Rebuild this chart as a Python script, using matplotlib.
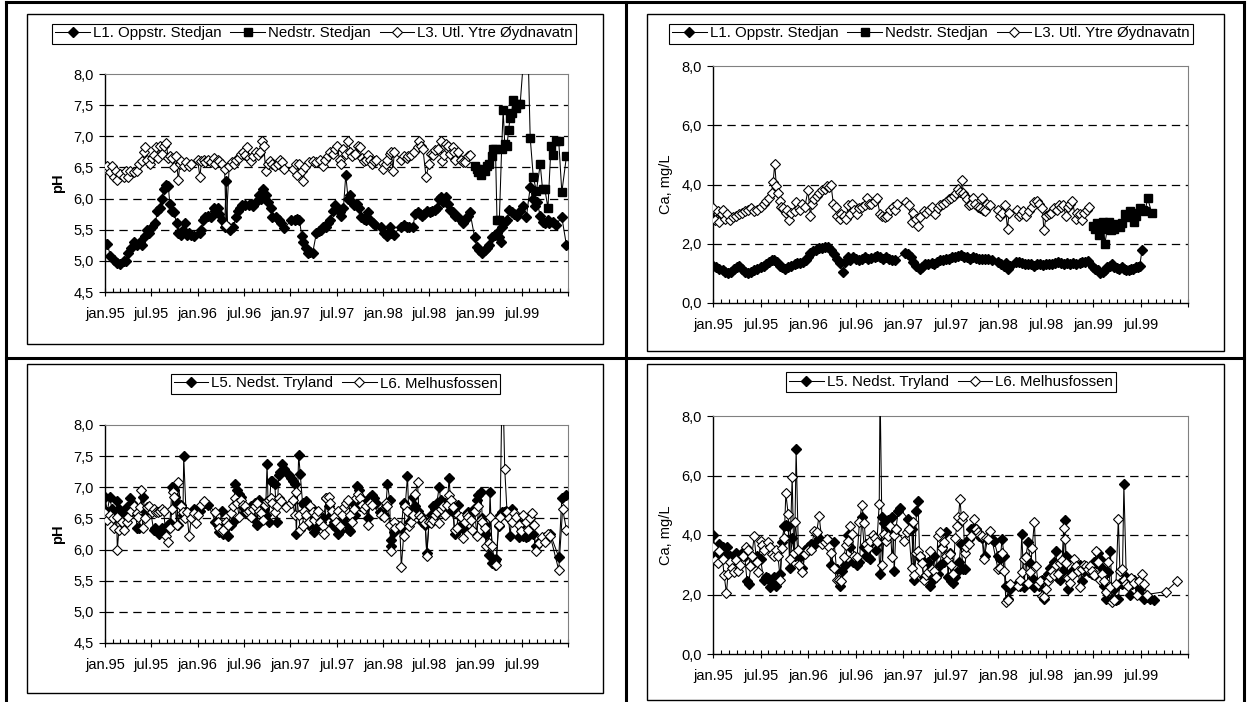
import matplotlib
matplotlib.use("Agg")
import matplotlib.pyplot as plt
from matplotlib.patches import Rectangle
from matplotlib.lines import Line2D
import numpy as np

plt.rcParams['font.family'] = ['Liberation Sans', 'DejaVu Sans']
plt.rcParams['lines.scale_dashes'] = False

W, H = 1247, 702

# x values are months after 1 jan 1995
month_labels = ["jan.95", "jul.95", "jan.96", "jul.96", "jan.97",
				"jul.97", "jan.98", "jul.98", "jan.99", "jul.99"]

# ---------- pH, top left ----------
ph_l1_month = [
	0.0,0.3,0.7,1.2,1.6,2.0,2.4,2.7,3.0,3.4,
	3.8,4.2,4.6,4.8,5.2,5.4,5.7,6.1,6.5,6.8,
	7.1,7.4,7.6,7.9,8.2,8.4,8.7,8.9,9.3,9.5,
	9.8,10.1,10.4,10.6,10.9,11.2,11.5,12.3,12.5,12.7,
	13.0,13.4,13.8,14.1,14.3,14.6,14.8,15.2,15.5,15.7,
	15.9,16.2,16.6,17.0,17.3,17.5,17.8,18.2,18.6,18.9,
	19.2,19.6,19.9,20.2,20.5,20.8,21.1,21.5,21.7,22.1,
	22.5,22.8,23.2,24.1,24.6,24.9,25.2,25.5,25.7,26.0,
	26.3,26.6,26.9,27.4,27.7,28.0,28.3,28.7,28.9,29.2,
	29.5,29.8,30.1,30.4,30.6,30.9,31.2,31.5,31.8,32.0,
	32.3,32.6,32.9,33.2,33.5,33.8,34.1,34.4,34.7,35.0,
	35.8,36.2,36.5,36.9,37.1,37.4,38.3,38.7,39.1,39.4,
	39.9,40.2,40.5,40.8,41.1,41.3,41.7,42.1,42.4,42.7,
	43.0,43.3,43.5,43.8,44.2,44.5,44.7,45.1,45.4,45.7,
	46.4,46.7,47.0,47.3,47.9,48.2,48.5,48.8,49.2,49.5,
	49.8,50.2,50.5,50.8,51.0,51.3,51.5,51.8,52.1,52.4,
	52.7,53.0,53.4,53.8,54.2,54.6,55.1,55.4,55.7,56.0,
	56.4,56.7,57.0,57.4,57.6,58.0,58.4,59.2,59.8]
ph_l1 = [
	5.27,5.27,5.08,5.02,4.97,4.95,5.0,5.0,5.13,5.2,
	5.3,5.25,5.3,5.25,5.4,5.5,5.45,5.55,5.6,5.8,
	5.85,6.0,6.15,6.22,6.2,5.92,5.8,5.78,5.6,5.45,
	5.42,5.5,5.6,5.42,5.45,5.42,5.4,5.45,5.5,5.65,
	5.7,5.72,5.7,5.85,5.8,5.85,5.75,5.65,5.55,6.28,
	5.55,5.5,5.55,5.7,5.8,5.85,5.9,5.9,5.9,5.92,
	5.88,5.95,6.05,6.0,6.15,6.05,5.95,5.85,5.7,5.7,
	5.65,5.6,5.52,5.65,5.65,5.68,5.65,5.4,5.3,5.2,
	5.12,5.15,5.12,5.45,5.48,5.5,5.55,5.55,5.6,5.65,
	5.8,5.9,5.85,5.78,5.72,5.85,6.38,6.0,6.05,5.95,
	5.9,5.92,5.85,5.7,5.68,5.65,5.78,5.65,5.6,5.58,
	5.55,5.45,5.4,5.55,5.45,5.42,5.55,5.58,5.55,5.55,
	5.55,5.75,5.78,5.75,5.72,5.75,5.8,5.78,5.8,5.82,
	5.85,6.0,6.02,5.95,6.03,5.92,5.82,5.78,5.72,5.7,
	5.6,5.65,5.72,5.78,5.38,5.22,5.18,5.12,5.18,5.2,
	5.25,5.38,5.42,5.45,5.38,5.3,5.55,5.62,5.65,5.82,
	5.78,5.75,5.72,5.8,5.88,5.7,6.18,6.0,5.88,5.95,
	5.72,5.62,5.6,5.65,5.6,5.62,5.58,5.7,5.25]

ph_ned_month = [
	47.9,48.2,48.4,48.7,48.9,49.2,49.5,49.8,50.1,50.3,
	50.6,50.8,51.1,51.4,51.6,51.8,52.1,52.3,52.5,52.7,
	52.9,53.2,53.5,53.8,54.7,55.1,55.5,55.9,56.4,56.7,
	57.0,57.4,57.8,58.0,58.4,58.8,59.2,59.8]
ph_ned = [
	6.52,6.48,6.42,6.38,6.48,6.45,6.52,6.55,6.68,6.8,
	6.8,5.65,5.65,6.8,7.42,6.88,6.85,7.1,7.3,7.38,
	7.58,7.45,7.52,7.52,9.0,6.98,6.35,6.12,6.55,6.15,
	6.15,5.85,6.85,6.7,6.92,6.92,6.1,6.68]

ph_l3_month = [
	0.0,0.3,0.7,0.9,1.2,1.4,1.6,2.0,2.4,2.7,
	3.0,3.3,3.7,4.1,4.4,4.8,5.1,5.2,5.4,5.8,
	6.1,6.4,6.6,6.9,7.1,7.4,7.6,7.9,8.2,8.4,
	8.7,8.9,9.2,9.5,9.7,9.9,10.2,10.5,10.9,11.2,
	12.0,12.3,12.5,12.8,13.0,13.4,13.8,14.1,14.3,14.6,
	14.8,15.2,15.5,15.7,16.1,16.4,16.7,17.0,17.4,17.6,
	17.9,18.2,18.4,18.7,18.9,19.2,19.6,19.8,20.1,20.4,
	20.6,20.8,21.1,21.4,21.7,22.0,22.4,22.7,22.9,23.2,
	24.3,24.8,24.9,25.2,25.5,25.7,25.9,26.4,26.9,27.4,
	27.8,28.2,28.5,28.9,29.2,29.5,29.8,30.1,30.4,30.6,
	30.9,31.2,31.5,31.8,32.0,32.4,32.8,33.0,33.3,33.5,
	33.8,34.1,34.4,34.6,34.8,35.1,36.0,36.4,36.6,36.9,
	37.1,37.3,37.5,38.4,38.8,39.1,39.3,39.7,40.1,40.5,
	40.7,41.0,41.2,41.6,42.0,42.3,42.5,42.8,43.2,43.5,
	43.7,43.9,44.2,44.4,44.7,45.1,45.2,45.4,45.7,46.1,
	46.4,46.6,47.0,47.3]
ph_l3 = [
	6.47,6.52,6.42,6.52,6.35,6.45,6.3,6.4,6.35,6.45,
	6.35,6.45,6.42,6.45,6.55,6.6,6.75,6.82,6.62,6.55,
	6.65,6.7,6.82,6.65,6.85,6.72,6.85,6.9,6.65,6.68,
	6.65,6.5,6.68,6.3,6.55,6.6,6.52,6.58,6.52,6.55,
	6.62,6.35,6.6,6.62,6.58,6.62,6.58,6.65,6.55,6.62,
	6.6,6.55,6.48,5.58,6.52,6.58,6.55,6.62,6.65,6.72,
	6.75,6.7,6.82,6.65,6.6,6.68,6.75,6.7,6.75,6.92,
	6.85,6.45,6.55,6.6,6.55,6.52,6.55,6.62,6.58,6.48,
	6.48,6.55,6.38,6.55,6.45,6.28,6.5,6.58,6.6,6.58,
	6.62,6.52,6.62,6.68,6.75,6.72,6.8,6.85,6.62,6.55,
	6.8,6.72,6.92,6.75,6.68,6.72,6.85,6.82,6.65,6.6,
	6.62,6.7,6.62,6.55,6.6,6.62,6.48,6.55,6.62,6.72,
	6.75,6.45,6.75,6.62,6.68,6.65,6.68,6.7,6.75,6.82,
	6.92,6.85,6.8,6.35,6.55,6.72,6.7,6.78,6.8,6.92,
	6.6,6.7,6.88,6.85,6.72,6.82,6.75,6.62,6.75,6.62,
	6.58,6.58,6.68,6.7]

# ---------- Ca, top right ----------
ca_l1_month = [
	0.0,0.4,0.8,1.2,1.5,1.9,2.3,2.7,3.0,3.3,
	3.7,4.0,4.4,4.8,5.2,5.6,6.0,6.4,6.7,7.1,
	7.4,7.7,8.1,8.4,8.7,9.1,9.5,9.9,10.3,10.6,
	11.0,11.4,11.8,12.0,12.3,12.6,13.0,13.4,13.8,14.1,
	14.5,14.9,15.3,15.7,16.1,16.4,16.7,17.0,17.3,17.7,
	18.1,18.5,18.8,19.2,19.6,20.0,20.4,20.7,21.1,21.5,
	21.9,22.2,22.6,23.0,24.2,24.6,25.0,25.3,25.7,26.1,
	26.4,26.8,27.2,27.6,27.9,28.3,28.7,29.1,29.4,29.8,
	30.2,30.6,31.0,31.3,31.7,32.1,32.5,32.8,33.2,33.6,
	34.0,34.3,34.7,35.2,36.0,36.4,36.7,37.0,37.3,37.5,
	38.3,38.7,39.0,39.4,39.8,40.2,40.6,40.9,41.3,41.7,
	42.1,42.4,42.8,43.2,43.6,43.9,44.3,44.7,45.1,45.5,
	45.9,46.3,46.6,47.0,47.4,48.0,48.3,48.6,48.9,49.2,
	49.5,49.8,50.1,50.4,50.7,51.0,51.3,51.6,51.9,52.2,
	52.5,52.8,53.1,53.4,53.7,53.9,54.2]
ca_l1 = [
	1.25,1.22,1.15,1.1,1.05,1.0,1.05,1.15,1.2,1.25,
	1.15,1.05,1.0,1.05,1.1,1.15,1.2,1.25,1.3,1.4,
	1.45,1.45,1.4,1.25,1.2,1.15,1.2,1.25,1.3,1.35,
	1.35,1.38,1.45,1.55,1.7,1.75,1.8,1.85,1.85,1.9,
	1.88,1.8,1.65,1.5,1.35,1.05,1.4,1.55,1.45,1.55,
	1.5,1.45,1.5,1.55,1.5,1.52,1.55,1.6,1.55,1.5,
	1.55,1.5,1.45,1.45,1.7,1.65,1.55,1.4,1.25,1.15,
	1.2,1.3,1.3,1.35,1.3,1.4,1.45,1.45,1.5,1.5,
	1.55,1.55,1.6,1.62,1.55,1.55,1.5,1.55,1.52,1.5,
	1.5,1.48,1.5,1.45,1.4,1.3,1.25,1.35,1.15,1.25,
	1.4,1.38,1.35,1.3,1.3,1.3,1.25,1.3,1.3,1.28,
	1.3,1.3,1.32,1.35,1.4,1.35,1.3,1.35,1.3,1.35,
	1.32,1.35,1.4,1.38,1.42,1.2,1.15,1.1,1.0,1.05,
	1.1,1.2,1.25,1.3,1.2,1.18,1.15,1.2,1.15,1.1,
	1.12,1.15,1.15,1.2,1.2,1.25,1.8]

ca_ned_month = [
	48.0,48.3,48.5,48.8,49.0,49.3,49.5,49.8,50.0,50.3,
	50.7,51.0,51.4,51.7,52.0,52.3,52.7,52.9,53.2,53.4,
	53.9,54.3,54.6,54.9,55.4]
ca_ned = [
	2.6,2.5,2.7,2.3,2.6,2.75,2.0,2.5,2.75,2.45,
	2.5,2.65,2.55,2.7,3.0,2.9,3.1,3.05,2.75,2.95,
	3.2,3.15,3.1,3.55,3.05]

ca_l3_month = [
	0.0,0.3,0.6,0.8,1.1,1.3,1.5,1.8,2.2,2.5,
	2.9,3.3,3.7,4.0,4.4,4.8,5.2,5.6,6.0,6.4,
	6.7,7.1,7.4,7.6,7.8,8.0,8.2,8.4,8.6,8.9,
	9.2,9.4,9.6,9.9,10.3,10.5,10.8,11.0,11.3,11.6,
	12.0,12.3,12.5,12.8,13.1,13.4,13.8,14.1,14.4,14.6,
	14.9,15.2,15.5,15.7,16.0,16.2,16.5,16.8,17.1,17.3,
	17.6,17.8,18.2,18.5,18.8,19.2,19.5,19.7,20.0,20.4,
	20.7,21.1,21.4,21.7,22.0,22.4,22.7,23.0,23.2,24.4,
	24.7,25.1,25.3,25.6,25.9,26.2,26.6,26.9,27.3,27.7,
	28.0,28.4,28.7,29.1,29.4,29.8,30.1,30.5,30.7,31.0,
	31.2,31.5,31.6,31.8,32.1,32.3,32.6,32.9,33.1,33.5,
	33.7,34.0,34.1,34.3,34.6,35.0,36.0,36.3,36.5,36.9,
	37.2,37.4,38.4,38.7,38.9,39.2,39.5,39.9,40.3,40.6,
	40.9,41.2,41.6,41.8,42.1,42.4,42.7,43.1,43.4,43.7,
	43.9,44.2,44.6,44.8,45.1,45.4,45.8,46.0,46.3,46.6,
	46.9,47.3,47.5]
ca_l3 = [
	3.2,2.8,3.1,2.75,3.0,3.15,2.85,3.0,2.8,2.9,
	2.95,3.0,3.05,3.1,3.15,3.2,3.1,3.15,3.25,3.35,
	3.45,3.55,3.7,4.1,4.7,3.95,3.7,3.45,3.25,3.2,
	3.05,3.15,2.8,3.05,3.1,3.4,3.2,3.15,3.35,3.25,
	3.8,2.95,3.35,3.5,3.6,3.7,3.8,3.85,3.95,3.9,
	4.0,3.35,3.25,2.95,2.85,3.0,2.95,2.85,3.3,3.0,
	3.35,3.15,3.0,3.2,3.25,3.3,3.55,3.35,3.35,3.45,
	3.55,3.0,2.95,2.9,2.95,3.15,3.25,3.15,3.35,3.4,
	3.3,2.75,3.05,2.85,2.6,2.9,3.1,3.05,3.15,3.25,
	3.0,3.2,3.3,3.35,3.4,3.5,3.55,3.6,3.7,3.85,
	3.75,4.15,3.7,3.6,3.5,3.3,3.35,3.55,3.35,3.25,
	3.2,3.55,3.15,3.1,3.35,3.3,3.15,2.95,3.05,3.3,
	2.5,3.05,3.15,2.95,3.0,3.1,2.95,3.1,3.25,3.4,
	3.45,3.35,3.2,2.45,2.95,3.0,3.05,3.2,3.15,3.3,
	3.25,3.3,2.95,3.25,3.35,3.45,2.85,3.05,3.0,2.8,
	3.05,3.15,3.25]

# ---------- pH, bottom left ----------
ph_l5_month = [
	0.0,0.3,0.6,0.9,1.2,1.5,1.6,1.8,2.2,2.5,
	2.8,3.2,3.5,3.9,4.2,4.4,4.7,4.9,5.2,5.6,
	5.9,6.3,6.5,6.8,7.0,7.2,7.4,7.6,7.9,8.2,
	8.4,8.7,8.9,9.1,9.3,9.5,9.8,10.1,10.2,10.5,
	10.8,11.1,11.5,11.9,12.3,12.5,13.0,13.4,14.3,14.6,
	14.8,15.1,15.3,15.7,16.0,16.3,16.6,16.9,17.1,17.4,
	17.6,17.9,18.2,18.4,18.7,18.9,19.2,19.4,19.7,19.9,
	20.2,20.6,20.8,21.0,21.2,21.5,21.7,22.0,22.3,22.5,
	22.7,22.9,23.2,23.8,24.1,24.3,24.6,24.8,25.1,25.3,
	25.6,25.8,26.1,26.4,26.6,26.9,27.1,27.4,27.6,28.0,
	28.3,28.7,29.0,29.3,29.5,29.7,29.9,30.2,30.5,30.7,
	31.0,31.3,31.6,31.8,32.1,32.4,32.6,32.9,33.1,33.4,
	33.8,34.1,34.3,34.6,34.8,35.1,35.6,36.1,36.4,36.6,
	36.9,37.0,37.1,37.4,37.6,37.9,38.4,38.7,38.9,39.2,
	39.4,39.7,39.9,40.2,40.5,40.8,41.1,41.5,41.7,42.0,
	42.3,42.5,42.8,43.0,43.3,43.5,43.8,44.1,44.3,44.6,
	44.8,45.1,45.3,45.6,45.8,46.1,46.4,46.8,47.1,47.5,
	47.8,48.2,48.4,48.7,48.9,49.2,49.4,49.7,49.9,50.2,
	50.5,50.7,51.0,51.2,51.5,51.7,52.0,52.3,52.5,52.8,
	53.0,53.3,53.6,53.9,54.2,54.5,54.8,55.1,55.5,55.8,
	56.2,56.6,57.0,57.4,57.7,58.8,59.2,59.8]
ph_l5 = [
	6.85,6.6,6.85,6.65,6.6,6.62,6.78,6.65,6.6,6.62,
	6.68,6.82,6.75,6.6,6.35,6.35,6.6,6.85,6.6,6.65,
	6.62,6.32,6.35,6.3,6.25,6.3,6.35,6.32,6.35,6.4,
	6.42,7.0,6.95,6.85,6.75,6.4,6.72,6.55,7.5,6.6,
	6.55,6.55,6.65,6.6,6.62,6.7,6.75,6.72,6.45,6.4,
	6.28,6.62,6.25,6.38,6.22,6.4,6.45,7.05,6.95,6.9,
	6.85,6.68,6.6,6.65,6.55,6.7,6.5,6.75,6.4,6.8,
	6.75,6.65,6.55,7.38,6.45,7.1,7.1,7.05,6.45,7.2,
	7.25,7.38,7.3,7.2,7.15,7.1,7.05,6.25,7.52,7.22,
	6.75,6.72,6.78,6.4,6.5,6.65,6.28,6.35,6.55,6.45,
	6.5,6.82,6.7,6.55,6.4,6.45,6.35,6.25,6.3,6.45,
	6.5,6.4,6.32,6.3,6.75,6.55,7.02,6.95,6.7,6.8,
	6.75,6.5,6.85,6.88,6.82,6.75,6.6,6.55,6.7,7.05,
	6.8,6.15,6.05,6.28,6.35,6.4,6.35,6.75,6.7,7.18,
	6.45,6.6,6.85,6.7,6.62,6.55,6.45,6.4,5.95,6.45,
	6.55,6.7,6.65,6.75,7.0,6.8,6.6,6.75,6.65,7.15,
	6.72,6.6,6.25,6.3,6.72,6.4,6.35,6.55,6.6,6.6,
	6.65,6.8,6.88,6.92,6.5,6.4,6.25,5.92,6.92,5.78,
	5.82,5.85,6.38,6.55,6.6,6.6,6.62,6.5,6.22,6.65,
	6.55,6.48,6.2,6.4,6.22,6.2,6.22,6.5,6.25,6.05,
	6.12,6.15,6.2,6.22,6.25,5.88,6.82,6.88]

ph_l6_month = [
	0.0,0.3,0.6,1.0,1.2,1.5,1.6,1.8,2.2,2.5,
	2.8,3.0,3.4,3.7,4.1,4.3,4.6,4.7,4.9,5.2,
	5.4,5.7,6.1,6.4,6.6,6.9,7.1,7.4,7.6,7.9,
	8.2,8.4,8.7,8.8,9.0,9.3,9.5,9.8,10.1,10.4,
	10.6,10.9,11.2,11.5,11.8,12.1,12.4,12.8,14.3,14.6,
	14.8,15.1,15.3,15.7,16.0,16.3,16.6,16.9,17.1,17.4,
	17.6,17.9,18.2,18.4,18.7,18.9,19.2,19.4,19.7,19.9,
	20.2,20.5,20.7,21.0,21.2,21.5,21.7,22.0,22.3,22.5,
	22.8,23.5,24.1,24.3,24.6,24.8,25.1,25.3,25.6,25.8,
	26.1,26.4,26.6,26.9,27.1,27.4,27.6,27.9,28.2,28.4,
	28.7,29.0,29.2,29.4,29.7,29.9,30.2,30.5,30.7,31.0,
	31.2,31.5,31.8,32.0,32.3,32.5,32.8,33.0,33.3,33.5,
	33.8,34.1,34.3,34.6,35.8,36.1,36.4,36.6,36.9,37.1,
	37.4,37.6,38.2,38.4,38.7,38.9,39.2,39.4,39.7,39.9,
	40.2,40.5,40.7,41.0,41.2,41.5,41.7,42.0,42.3,42.5,
	42.8,43.0,43.3,43.5,43.8,44.1,44.3,44.6,44.8,45.1,
	45.3,45.6,45.8,46.1,46.4,46.6,46.9,47.1,47.4,47.6,
	47.9,48.2,48.4,48.7,48.9,49.2,49.4,49.7,49.9,50.2,
	50.5,50.7,51.0,51.2,51.5,51.8,52.1,52.4,52.8,53.0,
	53.3,53.6,53.9,54.2,54.5,54.8,55.1,55.3,55.6,55.8,
	56.2,56.6,57.0,57.4,57.7,58.8,59.3,59.8]
ph_l6 = [
	6.58,6.48,6.55,6.5,6.35,6.52,6.0,6.32,6.45,6.32,
	6.45,6.52,6.62,6.7,6.58,6.52,6.68,6.95,6.35,6.5,
	6.68,6.7,6.6,6.65,6.6,6.6,6.62,6.65,6.62,6.22,
	6.12,6.35,6.65,6.92,6.85,6.4,7.08,6.7,6.6,6.5,
	6.6,6.22,6.5,6.58,6.42,6.55,6.72,6.78,6.6,6.45,
	6.35,6.3,6.32,6.45,6.4,6.58,6.7,6.82,6.75,6.52,
	6.8,6.72,6.7,6.6,6.62,6.52,6.65,6.7,6.75,6.62,
	6.58,6.48,6.72,6.78,6.8,6.82,6.75,6.6,6.7,6.82,
	6.78,6.68,6.75,6.8,6.55,6.92,6.55,6.32,6.38,6.62,
	6.55,6.45,6.7,6.6,6.48,6.55,6.62,6.45,6.38,6.25,
	6.82,6.85,6.75,6.62,6.52,6.45,6.62,6.38,6.55,6.68,
	6.75,6.8,6.55,6.45,6.65,6.82,6.9,6.82,6.72,6.65,
	6.7,6.4,6.75,6.72,6.55,6.52,6.75,6.7,6.4,5.98,
	6.45,6.35,6.38,5.72,6.22,6.7,6.62,6.38,6.45,6.55,
	6.9,7.08,6.55,6.52,6.48,6.42,5.9,6.45,6.42,6.48,
	6.55,6.6,6.42,6.65,6.7,6.55,6.72,6.88,6.8,6.68,
	6.32,6.35,6.55,6.52,6.18,6.45,6.55,6.52,6.48,6.32,
	6.62,6.22,6.7,6.48,6.45,6.35,6.05,6.1,6.52,6.05,
	5.75,5.75,6.4,6.52,9.0,7.3,6.6,6.5,6.45,6.58,
	6.52,6.4,6.3,6.55,6.45,6.32,6.5,6.58,6.4,5.98,
	6.1,6.2,6.12,6.25,6.22,5.67,6.65,6.32]

# ---------- Ca, bottom right ----------
ca_l5_month = [
	0.0,0.4,0.8,1.2,1.5,1.8,2.2,2.5,2.9,3.3,
	3.7,4.0,4.3,4.5,4.8,5.2,5.6,6.0,6.4,6.7,
	7.0,7.2,7.5,7.7,8.0,8.2,8.5,8.7,9.0,9.2,
	9.5,9.7,10.0,10.3,10.5,10.8,11.0,11.3,11.6,12.0,
	12.4,12.8,13.1,13.4,14.3,14.6,14.9,15.3,15.6,16.0,
	16.3,16.7,17.1,17.3,17.7,18.0,18.2,18.5,18.8,19.1,
	19.3,19.6,19.8,20.1,20.4,20.6,20.9,21.1,21.4,21.6,
	21.9,22.1,22.4,22.6,22.9,23.1,23.4,23.6,24.6,25.1,
	25.4,25.7,25.9,26.1,26.3,26.6,26.9,27.2,27.4,27.7,
	27.9,28.2,28.4,28.7,28.9,29.2,29.4,29.7,29.9,30.1,
	30.3,30.6,30.8,31.1,31.3,31.6,31.8,32.1,32.3,32.6,
	33.0,33.2,33.6,34.0,34.3,34.7,35.2,35.5,36.0,36.3,
	36.5,36.8,37.0,37.3,37.5,38.4,38.8,39.0,39.3,39.5,
	39.8,40.1,40.3,40.6,40.8,41.2,41.6,41.8,42.1,42.3,
	42.6,42.8,43.1,43.3,43.6,43.8,44.2,44.4,44.6,44.7,
	44.9,45.3,45.6,45.9,46.3,46.6,46.9,47.3,47.5,47.9,
	48.1,48.4,48.6,48.9,49.1,49.4,49.6,49.9,50.2,50.4,
	50.7,50.9,51.2,51.4,51.7,51.9,52.2,52.4,52.7,52.9,
	53.2,53.5,53.9,54.2,54.4,54.8,55.2,55.7]
ca_l5 = [
	4.0,3.3,3.7,3.6,3.4,3.6,3.3,3.0,3.4,3.3,
	3.4,3.3,2.45,2.35,3.0,3.1,3.3,3.2,2.5,2.6,
	2.55,2.25,2.4,2.6,2.3,2.5,2.7,3.75,4.3,4.35,
	4.3,2.9,3.9,3.3,6.9,3.3,3.25,2.9,3.5,3.6,
	3.7,3.65,3.8,3.9,3.75,3.8,3.0,3.75,2.85,2.3,
	2.8,3.0,4.0,3.6,3.1,3.2,3.0,3.1,4.6,3.6,
	3.3,3.25,3.2,3.8,3.85,3.5,3.75,2.7,4.6,4.4,
	4.3,4.5,4.2,4.6,2.8,4.2,4.8,4.9,4.55,4.2,
	2.5,4.8,5.15,3.3,3.2,2.6,2.6,3.1,2.3,2.45,
	3.3,2.6,2.7,3.0,3.6,3.1,4.1,2.6,3.4,2.45,
	2.4,2.6,2.75,3.1,3.7,2.85,2.85,3.8,3.85,4.2,
	4.25,4.2,3.95,3.9,3.3,3.9,3.85,3.8,3.3,3.2,
	3.85,3.3,2.3,1.85,2.2,2.35,2.3,4.05,2.25,3.25,
	3.75,3.05,2.55,2.25,2.35,2.3,2.5,1.85,2.5,2.7,
	2.9,2.8,3.1,3.45,2.55,2.5,2.8,4.5,3.3,3.2,
	2.2,2.8,2.75,2.8,3.0,2.45,2.8,2.9,2.75,2.7,
	3.1,3.05,3.4,3.2,2.9,2.3,1.85,2.75,3.45,1.85,
	2.2,1.8,1.85,2.4,2.35,5.7,2.6,2.4,2.0,2.35,
	2.5,2.4,2.2,1.95,1.85,1.9,1.85,1.8]

ca_l6_month = [
	0.0,0.3,0.6,0.8,1.2,1.4,1.7,1.9,2.2,2.4,
	2.7,2.9,3.2,3.4,3.8,4.2,4.4,4.7,4.9,5.2,
	5.5,5.7,6.0,6.2,6.5,6.9,7.2,7.5,7.7,8.0,
	8.2,8.5,8.7,9.0,9.2,9.5,9.7,10.0,10.2,10.4,
	10.7,10.9,11.3,11.6,12.0,12.4,12.8,13.1,13.4,13.8,
	14.1,14.4,14.6,14.9,15.3,15.6,15.9,16.2,16.5,16.8,
	17.1,17.3,17.6,17.8,18.2,18.5,18.8,19.1,19.3,19.6,
	19.8,20.2,20.5,20.7,21.0,21.1,21.4,21.6,21.9,22.1,
	22.4,22.6,22.9,23.1,24.1,24.5,24.7,25.1,25.3,25.4,
	25.7,25.9,26.2,26.4,26.7,26.9,27.2,27.4,27.7,27.9,
	28.2,28.4,28.7,28.9,29.2,29.4,29.7,29.9,30.1,30.3,
	30.6,30.8,31.0,31.2,31.4,31.6,31.8,32.0,32.3,32.6,
	33.0,33.2,33.5,33.7,34.0,34.2,34.5,34.7,35.0,36.0,
	36.3,36.5,36.8,37.0,37.3,37.5,38.5,38.8,39.0,39.3,
	39.5,39.8,40.1,40.3,40.6,40.8,41.1,41.3,41.6,41.8,
	42.1,42.3,42.6,42.8,43.1,43.3,43.6,43.8,44.1,44.3,
	44.4,44.6,44.8,45.1,45.4,45.6,45.9,46.1,46.4,46.6,
	46.9,47.1,47.4,47.6,47.9,48.1,48.4,48.6,48.9,49.1,
	49.4,49.6,49.9,50.2,50.4,50.7,50.9,51.2,51.4,51.7,
	51.9,52.2,52.4,52.8,53.2,53.5,53.8,54.2,54.5,54.8,
	57.2,58.6]
ca_l6 = [
	3.6,3.15,3.05,3.45,3.2,2.65,2.05,2.7,3.1,2.9,
	2.75,3.15,2.8,3.0,3.3,3.6,3.5,2.95,3.3,3.95,
	3.1,2.75,3.8,3.65,3.5,3.75,3.6,3.35,3.3,3.5,
	3.3,2.5,3.55,3.9,5.4,4.7,3.2,5.95,3.4,4.45,
	3.5,3.0,2.75,3.35,3.5,3.5,4.15,4.1,4.65,3.7,
	3.75,3.85,3.6,3.4,2.9,2.5,2.5,2.45,3.25,3.65,
	3.8,4.3,4.05,3.3,3.25,4.45,5.0,4.4,3.7,3.55,
	3.8,4.0,3.9,3.75,5.05,9.0,3.0,4.05,3.8,3.95,
	4.3,3.25,4.0,4.2,3.8,4.1,4.2,2.9,4.45,2.65,
	3.4,3.45,3.3,3.05,2.5,2.65,2.75,3.45,2.85,2.8,
	2.6,3.95,4.1,3.55,3.75,3.3,3.2,3.35,3.0,2.7,
	3.9,4.3,4.6,5.2,4.5,4.65,3.4,3.6,3.7,3.95,
	4.55,4.2,4.1,4.0,3.95,3.2,3.9,3.85,4.15,2.85,
	2.9,3.4,2.8,1.75,1.8,2.35,2.3,2.5,2.75,3.2,
	3.25,2.4,2.75,3.55,4.45,2.95,2.35,2.45,1.95,1.9,
	2.2,2.45,2.6,2.8,2.65,3.0,2.7,3.05,3.15,4.25,
	3.85,3.05,2.55,2.4,2.65,3.2,2.95,2.8,2.25,2.85,
	3.0,2.95,2.85,2.95,2.8,2.65,3.45,3.1,2.5,2.7,
	2.45,2.1,3.1,2.25,1.75,1.8,2.35,4.55,2.8,2.85,
	2.5,2.35,2.3,2.55,2.4,2.0,2.45,2.7,2.35,2.0,
	2.1,2.45]

legend_top = ["L1. Oppstr. Stedjan", "Nedstr. Stedjan", "L3. Utl. Ytre Øydnavatn"]
legend_bottom = ["L5. Nedst. Tryland", "L6. Melhusfossen"]

style_filled = dict(marker="D", markersize=4.6, markerfacecolor="black", markeredgecolor="black")
style_square = dict(marker="s", markersize=6.3, markerfacecolor="black", markeredgecolor="black")
style_open = dict(marker="D", markersize=4.9, markerfacecolor="white", markeredgecolor="black",
				  markeredgewidth=0.8)

tick_fontsize = 10.5
label_fontsize = 10.5
legend_fontsize = 10.8


def fx(px):
	return px / W


def fy(py):
	return 1 - py / H


def style_axis(ax, ylim, yticks, ylabel, bold):
	ax.set_xlim(0, 60)
	ax.set_ylim(*ylim)
	ax.set_xticks(np.arange(0, 61, 6))
	ax.set_xticklabels(month_labels + [""], fontsize=tick_fontsize)
	ax.set_xticks(np.arange(0, 61, 1), minor=True)
	ax.tick_params(axis="x", which="major", direction="inout", length=6, width=0.8, pad=8)
	ax.tick_params(axis="x", which="minor", direction="in", length=3, width=0.8)
	ax.set_yticks(yticks)
	ax.set_yticklabels([f"{v:.1f}".replace(".", ",") for v in yticks], fontsize=tick_fontsize)
	ax.tick_params(axis="y", direction="out", length=4, width=0.8, pad=4)
	for v in yticks[1:-1]:
		ax.axhline(v, color="black", linewidth=0.9, dashes=(6, 4), zorder=1)
	ax.spines["left"].set_color("black")
	ax.spines["bottom"].set_color("black")
	ax.spines["left"].set_linewidth(1.0)
	ax.spines["bottom"].set_linewidth(1.0)
	ax.spines["top"].set_color("#808080")
	ax.spines["right"].set_color("#808080")
	ax.set_ylabel(ylabel, fontsize=label_fontsize, fontweight="bold" if bold else "normal",
				  labelpad=6)


def add_legend(fig, handles, labels, cx, cy):
	fig.legend(
		handles, labels,
		loc="center", bbox_to_anchor=(fx(cx), fy(cy)),
		ncol=len(labels), fontsize=legend_fontsize,
		frameon=True, fancybox=False, shadow=False, framealpha=1,
		edgecolor="black", handlelength=2.3, handletextpad=0.2,
		columnspacing=0.6, borderpad=0.2, borderaxespad=0,
	).get_frame().set_linewidth(0.8)


fig = plt.figure(figsize=(W / 100, H / 100), dpi=100)

ax_tl = fig.add_axes([fx(105), fy(292), (568 - 105) / W, (292 - 74) / H])
ax_tr = fig.add_axes([fx(713), fy(303), (1188 - 713) / W, (303 - 66) / H])
ax_bl = fig.add_axes([fx(105), fy(643), (568 - 105) / W, (643 - 425) / H])
ax_br = fig.add_axes([fx(713), fy(654), (1188 - 713) / W, (654 - 416) / H])

ph_ticks = np.arange(4.5, 8.01, 0.5)
ca_ticks = np.arange(0.0, 8.01, 2.0)

lw = 0.75
# top left
h1, = ax_tl.plot(ph_l1_month, ph_l1, color="black", linewidth=lw, zorder=3, **style_filled)
h2, = ax_tl.plot(ph_ned_month, ph_ned, color="black", linewidth=lw, zorder=3, **style_square)
h3, = ax_tl.plot(ph_l3_month, ph_l3, color="black", linewidth=lw, zorder=4, **style_open)
style_axis(ax_tl, (4.5, 8.0), ph_ticks, "pH", True)

# top right
ax_tr.plot(ca_l1_month, ca_l1, color="black", linewidth=lw, zorder=3, **style_filled)
ax_tr.plot(ca_ned_month, ca_ned, color="black", linewidth=lw, zorder=3, **style_square)
ax_tr.plot(ca_l3_month, ca_l3, color="black", linewidth=lw, zorder=4, **style_open)
style_axis(ax_tr, (0.0, 8.0), ca_ticks, "Ca, mg/L", False)

# bottom left
h5, = ax_bl.plot(ph_l5_month, ph_l5, color="black", linewidth=lw, zorder=3, **style_filled)
h6, = ax_bl.plot(ph_l6_month, ph_l6, color="black", linewidth=lw, zorder=4, **style_open)
style_axis(ax_bl, (4.5, 8.0), ph_ticks, "pH", True)

# bottom right
ax_br.plot(ca_l5_month, ca_l5, color="black", linewidth=lw, zorder=3, **style_filled)
ax_br.plot(ca_l6_month, ca_l6, color="black", linewidth=lw, zorder=4, **style_open)
style_axis(ax_br, (0.0, 8.0), ca_ticks, "Ca, mg/L", False)

add_legend(fig, [h1, h2, h3], legend_top, 314, 33.5)
add_legend(fig, [h1, h2, h3], legend_top, 931, 33.5)
add_legend(fig, [h5, h6], legend_bottom, 335.5, 383.5)
add_legend(fig, [h5, h6], legend_bottom, 951, 382)

# chart frames
for x0, y0, x1, y1 in [(27, 14, 603, 344), (647, 14, 1224, 351),
					   (27, 364, 603, 693), (647, 364, 1224, 700)]:
	fig.add_artist(Rectangle((fx(x0), fy(y1)), (x1 - x0) / W, (y1 - y0) / H,
							 transform=fig.transFigure, fill=False,
							 edgecolor="black", linewidth=1.0))

# table lines
for xs, ys in [((6, 1244), (2, 2)), ((6, 6), (2, 702)), ((1244, 1244), (2, 702)),
			   ((626, 626), (2, 702)), ((6, 1244), (358, 358))]:
	fig.add_artist(Line2D([fx(x) for x in xs], [fy(y) for y in ys],
						  transform=fig.transFigure, color="black", linewidth=2.2))

fig.savefig("out.png", dpi=100, facecolor="white")
